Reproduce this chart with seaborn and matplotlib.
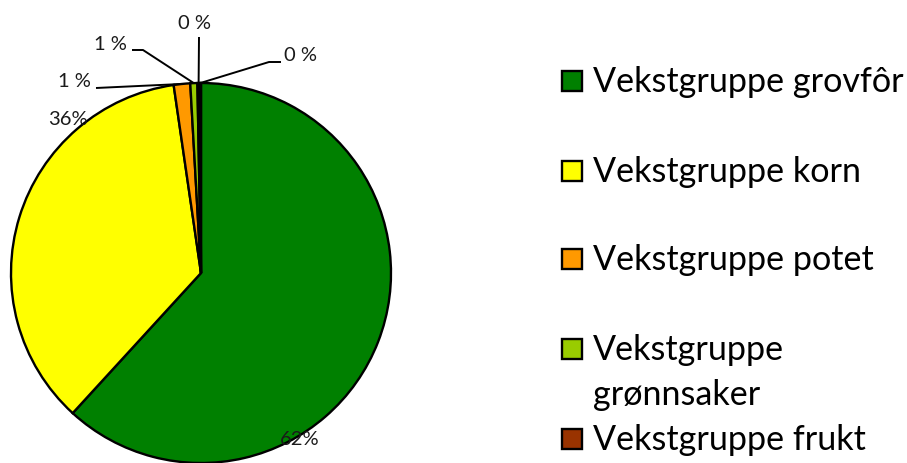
import numpy as np
import seaborn as sns
import matplotlib.pyplot as plt
from matplotlib.patches import Rectangle

sns.set_theme(style="white")
plt.rcParams['font.family'] = ['Lato', 'DejaVu Sans']

# data
groups = ["Vekstgruppe grovfôr", "Vekstgruppe korn", "Vekstgruppe potet",
          "Vekstgruppe\ngrønnsaker", "Vekstgruppe frukt", "Vekstgruppe annet"]
shares = [61.8, 35.9, 1.4, 0.6, 0.2, 0.1]
colors = ["#008000", "#FFFF00", "#FF9900", "#99CC00", "#993300", "#333399"]
legend_n = 5  # last entry is cut off in the original

W, H = 907, 464
fig = plt.figure(figsize=(W / 100, H / 100), dpi=100)

# pie centre (201, 274) px, radius 190 px
cx, cy, r = 201, 274, 190
lim = 1.02
ax = fig.add_axes([(cx - r * lim) / W, (H - cy - r * lim) / H, 2 * r * lim / W, 2 * r * lim / H])

wedges, _ = ax.pie(shares, colors=colors, startangle=90, counterclock=False,
                   radius=1, wedgeprops=dict(edgecolor="black", linewidth=1.7))
ax.set_xlim(-lim, lim)
ax.set_ylim(-lim, lim)
ax.set_aspect("equal")
ax.axis("off")


def px(x, y):
    return (x - cx) / r, (cy - y) / r


def label(v):
    return f"{v:.0f}%" if v >= 5 else f"{v:.0f} %"


# label positions (pixel) and leader elbows
text_pos = [(300, 440), (68, 120), (74, 82), (110, 45), (195, 24), (301, 56)]
leader_start = [None, None, (96, 89), (132, 51), (199, 38), (281, 63)]
leader_elbow = [None, None, None, (143, 51), None, (269, 63)]

for i, (w, v) in enumerate(zip(wedges, shares)):
    tx, ty = px(*text_pos[i])
    ax.text(tx, ty, label(v), ha="center", va="center", fontsize=14.5, color="#1a1a1a")
    if leader_start[i] is not None:
        mid = np.deg2rad((w.theta1 + w.theta2) / 2)
        pts = [px(*leader_start[i])]
        if leader_elbow[i] is not None:
            pts.append(px(*leader_elbow[i]))
        pts.append((np.cos(mid), np.sin(mid)))
        xs, ys = zip(*pts)
        ax.plot(xs, ys, color="black", lw=1.4, clip_on=False, solid_capstyle="butt")

# legend drawn manually to keep the original spacing
base_y = [92, 182, 270, 360, 450]
for i in range(legend_n):
    by = base_y[i]
    fig.patches.append(Rectangle((562 / W, (H - by) / H), 20 / W, 20 / H,
                                 transform=fig.transFigure, facecolor=colors[i],
                                 edgecolor="black", linewidth=1.7))
    lines = groups[i].split("\n")
    for k, line in enumerate(lines):
        fig.text(593 / W, (H - by - 45 * k) / H, line, ha="left", va="baseline",
                 fontsize=24.6, color="black")

fig.savefig("out.png", dpi=100)
